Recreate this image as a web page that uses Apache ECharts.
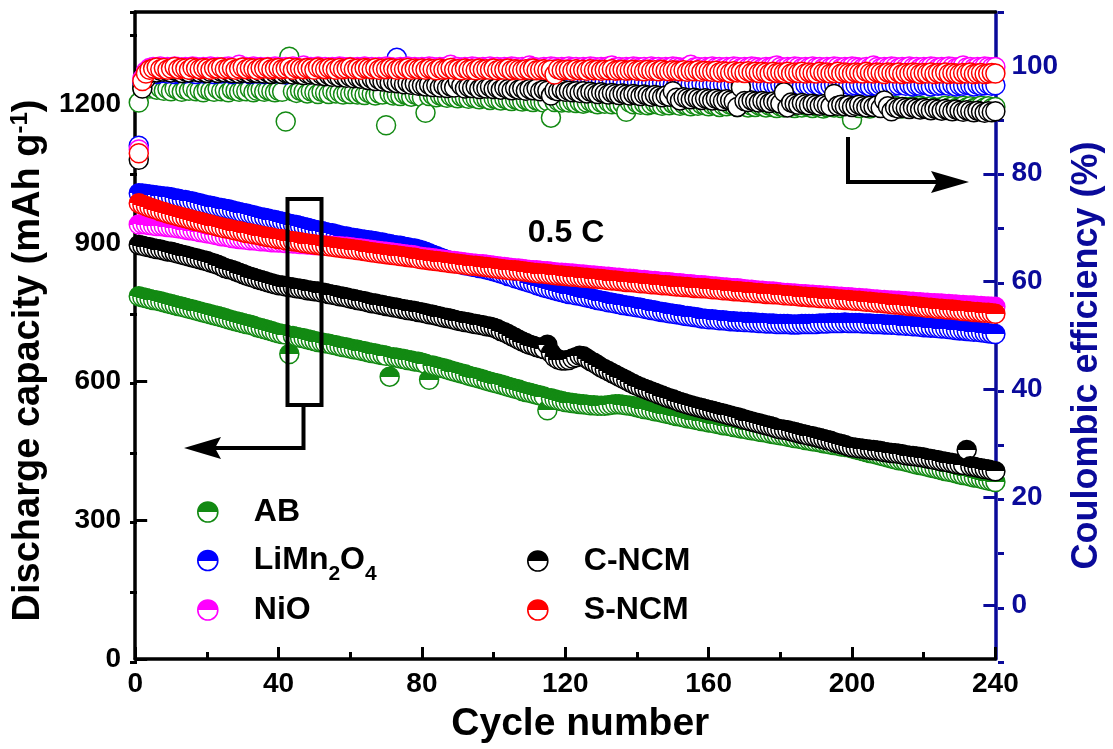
<!DOCTYPE html>
<html><head><meta charset="utf-8">
<script src="https://cdn.jsdelivr.net/npm/echarts@6/dist/echarts.min.js"></script>
<style>html,body{margin:0;padding:0;background:#fff}#c{width:1113px;height:749px}</style>
</head><body><div id="c"></div>
<script>
const FONT = '"Liberation Sans", Arial, sans-serif';
const NAVY = '#0a0a9a';
const seriesNames = ['AB', 'LiMn2O4', 'NiO', 'C-NCM', 'S-NCM'];
const seriesColors = ['#138a13', '#0000ff', '#ff00ff', '#000000', '#ff0000'];
const xTicks = [0, 40, 80, 120, 160, 200, 240];
const leftTicks = [0, 300, 600, 900, 1200];
const rightTicks = [0, 20, 40, 60, 80, 100];

// Discharge capacity (mAh g-1), cycles 1..240
const capAB = [
785,783,781,779,777,776,774,772,770,768,766,764,762,760,758,756,754,752,750,748,
746,744,742,740,738,735,733,731,729,727,725,723,721,718,716,714,712,710,707,705,
703,702,660,699,697,695,694,692,690,688,686,685,683,682,680,679,677,675,674,672,
670,669,667,666,664,662,661,659,658,656,611,653,652,650,649,647,646,644,643,641,
639,604,635,633,631,629,627,624,622,620,618,616,613,611,609,607,605,602,600,598,
596,594,592,589,587,585,583,580,578,576,574,572,570,568,538,564,562,560,558,556,
555,554,553,552,551,550,549,549,548,548,548,549,550,551,551,550,549,548,547,545,
543,541,540,538,536,535,533,531,530,528,526,525,523,521,520,518,517,515,514,512,
511,509,508,506,505,504,502,501,499,498,496,495,494,492,491,490,488,487,485,484,
483,481,480,478,477,476,474,473,471,470,469,467,466,464,463,462,460,459,458,456,
454,452,450,448,446,444,442,440,438,436,434,432,430,429,427,425,423,421,420,418,
416,414,413,411,409,407,405,404,402,400,398,397,395,393,392,390,388,386,385,383];
const capLMO = [
1008,1007,1006,1005,1004,1003,1002,1001,1000,999,997,996,994,993,991,990,988,986,984,982,
981,979,977,976,974,973,971,969,967,965,964,962,960,958,956,955,953,951,950,948,
946,944,942,940,939,937,935,933,931,929,927,926,924,922,921,919,917,915,914,912,
911,910,908,907,906,905,904,902,901,899,898,896,895,894,892,891,889,888,886,884,
881,878,875,872,869,866,863,861,858,856,854,852,851,849,848,846,845,843,841,839,
837,834,832,829,827,824,822,819,817,814,812,809,807,804,802,800,798,796,794,792,
790,789,787,786,784,782,781,779,777,775,774,772,771,769,768,766,765,764,762,761,
760,758,757,755,754,752,751,750,748,747,746,745,743,742,741,740,739,737,736,735,
735,734,733,733,732,731,731,730,730,729,729,728,728,727,727,726,726,726,725,725,
725,725,724,724,724,725,725,725,725,725,726,726,726,727,727,727,727,728,727,727,
727,727,726,726,726,725,725,725,724,724,723,723,722,722,721,721,720,720,719,718,
718,717,717,716,715,715,714,713,712,711,711,710,709,708,708,707,706,705,704,703];
const capNiO = [
940,941,940,939,938,937,937,936,935,934,933,932,931,929,928,927,926,924,923,921,
920,918,917,915,914,913,911,910,909,908,907,906,906,905,904,904,903,902,902,901,
901,900,900,899,899,898,898,897,897,896,896,895,895,894,894,893,893,892,892,891,
890,889,888,887,886,885,884,883,882,881,880,879,878,877,876,875,874,873,871,870,
869,868,867,866,865,864,863,862,861,860,859,858,857,856,855,854,854,853,852,851,
850,849,848,847,846,845,845,844,843,842,841,841,840,839,839,838,837,836,836,835,
834,834,833,832,832,831,830,830,829,828,827,827,826,825,825,824,823,823,822,821,
820,820,819,818,818,817,816,816,815,814,813,813,812,811,811,810,809,809,808,807,
806,806,805,804,804,803,802,802,801,800,799,799,798,797,797,796,795,795,794,793,
792,792,791,791,790,789,789,788,788,787,787,786,786,785,785,784,784,783,783,782,
781,781,780,780,779,778,778,777,777,776,776,775,775,774,774,773,773,772,772,771,
771,770,770,769,769,768,768,767,767,766,766,765,765,765,764,764,763,763,762,762];
const capCNCM = [
896,894,892,891,889,887,886,884,882,881,879,877,875,873,871,869,867,865,863,861,
858,856,853,850,846,844,842,839,836,833,830,827,825,822,820,818,815,813,811,809,
808,806,805,804,802,801,800,798,797,796,795,793,792,790,788,787,785,784,782,780,
779,777,775,774,772,770,769,767,766,764,763,761,760,758,757,755,754,753,751,750,
748,746,745,743,741,739,738,736,734,732,731,729,728,726,725,723,722,720,719,717,
714,710,707,703,699,695,691,687,684,680,678,675,673,671,680,662,653,648,646,646,
647,650,653,656,655,650,645,641,636,631,627,623,619,615,611,607,603,599,595,591,
588,585,582,579,576,573,570,567,564,562,559,556,554,551,549,547,545,543,541,539,
537,535,533,531,529,527,525,523,521,518,516,514,512,510,508,506,504,502,499,497,
496,495,493,491,489,487,485,483,482,480,478,476,474,472,469,467,465,463,460,458,
457,456,455,454,453,452,451,450,448,447,446,445,444,443,441,440,439,438,437,436,
434,433,431,430,428,427,425,424,422,421,420,452,417,416,414,413,411,410,408,406];
const capSNCM = [
986,983,980,977,974,972,969,967,964,962,960,958,956,954,952,950,948,946,944,942,
940,938,936,934,932,931,929,927,926,924,922,921,919,918,916,915,913,912,910,909,
908,906,905,904,903,902,900,899,898,897,896,895,894,893,892,891,890,889,888,887,
886,885,884,883,881,880,879,878,877,876,875,874,873,872,871,870,869,868,866,865,
864,863,862,861,860,859,858,857,856,855,854,853,852,851,851,850,849,848,847,846,
845,844,843,842,841,841,840,839,838,837,836,835,834,834,833,832,831,830,830,829,
828,827,827,826,825,825,824,823,823,822,821,820,819,819,818,817,816,816,815,814,
813,813,812,811,811,810,809,809,808,807,806,806,805,805,804,803,803,802,802,801,
800,800,799,798,798,797,796,796,795,794,794,793,792,792,791,790,790,789,789,788,
787,787,786,786,785,784,784,783,783,782,781,781,780,780,779,778,778,777,777,776,
775,775,774,773,773,772,771,771,770,769,768,767,767,766,765,764,764,763,762,761,
760,760,759,758,758,757,756,756,755,754,753,753,752,751,751,750,749,749,748,747];

// Coulombic efficiency (%), cycles 1..240
const ceAB = [
93.2,95.9,96.2,95.8,96.0,95.6,95.9,95.4,95.7,95.3,95.8,95.5,95.2,95.6,95.4,95.8,95.3,95.5,95.1,95.6,
95.4,95.2,95.7,95.3,95.5,95.1,95.6,95.4,95.2,95.5,95.3,95.7,95.1,95.4,95.6,95.2,95.5,95.3,95.1,95.4,
95.2,89.7,101.7,95.3,95.0,95.4,95.2,94.9,95.3,95.1,94.8,95.2,95.0,94.8,95.3,94.9,95.1,94.7,95.0,94.8,
95.1,94.7,94.9,94.6,95.0,94.8,94.5,94.9,94.7,89.0,94.8,94.5,94.7,94.4,94.8,94.6,94.3,94.7,94.5,94.2,
91.3,94.4,94.6,94.2,94.5,94.3,94.1,94.4,94.2,94.0,94.3,94.1,93.9,94.2,94.0,93.8,94.1,93.9,93.7,94.0,
93.8,93.6,93.9,93.7,93.5,93.8,93.6,93.4,93.7,93.5,93.3,93.6,93.4,93.2,93.5,90.4,93.3,93.5,93.2,93.4,
93.2,93.4,93.1,93.3,93.0,93.2,93.4,93.1,92.9,93.2,93.0,93.3,92.9,93.1,92.8,93.0,91.5,93.2,92.9,93.1,
92.8,93.0,92.7,92.9,93.1,92.8,92.6,92.9,92.7,93.0,92.8,92.6,92.9,92.7,92.5,92.8,92.6,92.9,92.7,92.5,
92.8,92.6,92.4,92.7,92.5,92.8,92.6,92.4,92.7,92.5,92.3,92.6,92.4,92.7,92.5,92.3,92.6,92.4,92.2,92.5,
92.3,92.6,92.4,92.2,92.5,92.3,92.6,92.4,92.2,92.5,92.3,92.1,92.4,92.6,92.3,92.5,92.2,92.4,92.6,90.0,
92.4,92.2,92.5,92.3,92.1,92.4,92.6,92.3,92.5,92.2,92.4,92.6,92.3,92.1,92.4,92.2,92.5,92.3,92.6,92.4,
92.2,92.5,92.3,92.1,92.4,92.6,92.3,92.5,92.2,92.4,92.6,92.3,92.5,92.2,92.4,92.6,92.3,92.5,92.2,92.4];
const ceLMO = [
85.2,96.8,98.2,98.6,98.8,98.5,98.7,98.9,98.6,98.8,98.5,98.7,98.9,98.6,98.8,98.7,98.5,98.8,98.6,98.9,
98.7,98.5,98.8,98.6,98.9,98.7,98.5,98.8,98.6,98.7,98.9,98.5,98.7,98.6,98.8,98.5,98.7,98.9,98.6,98.8,
98.6,98.4,98.7,98.5,98.8,98.6,98.4,98.7,98.5,98.6,98.8,98.4,98.6,98.5,98.7,98.4,98.6,98.5,98.7,98.4,
98.5,98.3,98.6,98.4,98.2,98.5,98.3,98.1,98.4,98.2,97.4,98.3,101.5,98.1,98.3,98.0,98.2,98.1,97.9,98.2,
98.0,98.2,97.9,98.1,98.0,97.8,98.1,97.9,98.0,97.8,98.1,97.9,97.7,98.0,97.8,97.9,97.7,98.0,97.8,97.9,
97.7,97.9,97.6,97.8,97.7,97.9,97.6,97.8,97.5,97.7,97.8,97.6,97.4,97.7,97.5,97.6,97.4,97.7,97.5,97.3,
97.5,97.3,97.6,97.4,97.2,97.5,97.3,97.1,97.4,97.2,97.0,97.3,97.1,96.9,97.2,97.0,96.8,97.1,96.9,97.0,
96.8,97.0,96.7,96.9,96.6,96.8,96.9,96.6,96.8,96.5,96.7,96.9,96.5,96.7,96.6,96.8,96.5,96.7,96.4,96.6,
96.5,96.7,96.4,96.6,96.5,96.3,96.6,96.4,96.5,96.3,96.6,96.4,96.5,96.3,96.6,96.4,96.2,96.5,96.3,96.5,
96.4,96.6,96.3,96.5,96.4,96.2,96.5,96.3,96.4,96.6,96.3,96.5,96.2,96.4,96.5,96.3,96.4,96.2,96.5,96.3,
96.4,96.6,96.3,96.5,96.2,96.4,96.3,96.5,96.4,96.2,96.5,96.3,96.4,96.6,96.3,96.5,96.2,96.4,96.3,96.5,
96.4,96.2,96.5,96.3,96.4,96.6,96.3,96.5,96.2,96.4,96.3,96.5,96.4,96.2,96.5,96.3,96.4,96.6,96.3,96.4];
const ceNiO = [
84.5,97.6,99.0,99.6,99.8,99.7,99.9,99.6,99.8,99.7,99.9,99.8,99.6,99.8,99.7,99.9,99.8,99.6,99.8,99.7,
99.9,99.7,99.8,99.6,99.8,99.9,99.7,99.8,100.2,99.7,99.8,99.6,99.9,99.7,99.8,99.6,99.8,99.7,99.9,99.8,
99.7,99.8,99.6,99.9,99.7,99.8,100.1,99.7,99.8,99.6,99.9,99.7,99.8,99.6,99.8,99.7,99.9,99.8,99.7,99.8,
99.6,99.8,99.7,99.9,99.7,99.8,99.6,99.8,99.7,99.9,99.8,99.7,99.6,99.8,99.7,99.9,99.7,99.8,99.6,99.8,
99.7,99.9,99.8,99.6,99.8,99.7,99.9,100.2,99.7,99.8,99.6,99.8,99.7,99.9,99.8,99.6,99.8,99.7,99.9,99.7,
99.8,99.6,99.8,99.7,99.9,99.8,99.6,99.8,99.7,100.1,99.8,99.7,99.6,99.8,99.7,99.9,99.8,99.6,99.8,99.7,
99.9,99.7,99.8,99.6,99.8,99.7,99.9,99.8,99.6,99.8,99.7,99.9,100.1,99.7,99.8,99.6,99.8,99.7,99.9,99.8,
99.7,99.8,99.6,99.9,99.7,99.8,99.6,99.8,99.7,99.9,99.8,99.7,99.6,99.8,100.2,99.7,99.8,99.6,99.8,99.7,
99.9,99.7,99.8,99.6,99.8,99.7,99.9,99.8,99.6,99.8,99.7,99.9,99.8,99.7,99.6,99.8,99.7,99.9,100.1,99.8,
99.6,99.8,99.7,99.9,99.8,99.6,99.8,99.7,99.9,99.7,99.8,99.6,99.8,99.7,99.9,99.8,99.6,99.8,99.7,99.9,
99.8,99.7,99.6,99.8,99.7,100.1,99.8,99.6,99.8,99.7,99.9,99.8,99.6,99.8,99.7,99.9,99.7,99.8,99.6,99.8,
99.7,99.9,99.8,99.6,99.8,99.7,99.9,99.8,99.6,99.8,100.1,99.7,99.8,99.6,99.8,99.7,99.9,99.8,99.7,99.8];
const ceCNCM = [
82.6,95.8,97.6,98.7,99.0,98.8,99.1,98.9,99.0,98.8,99.1,98.9,98.7,99.0,98.8,99.1,98.9,98.8,99.0,98.7,
98.9,99.0,98.7,98.9,98.8,99.0,98.7,98.9,98.6,98.8,98.9,98.6,98.8,98.7,98.9,98.6,98.8,98.5,98.7,98.8,
98.5,98.7,98.6,98.4,98.7,98.5,98.3,98.6,98.4,98.5,98.2,98.4,98.1,98.3,98.0,98.2,97.9,98.1,97.8,98.0,
97.7,97.9,97.6,97.8,97.4,97.6,97.2,97.5,97.1,97.3,96.9,97.2,96.8,97.0,96.6,96.9,96.5,96.7,96.3,96.4,
96.2,96.5,96.1,96.4,96.0,96.3,95.9,96.2,96.0,97.2,96.3,95.8,96.1,95.9,96.2,95.7,96.0,95.8,96.1,95.7,
95.9,95.6,96.0,95.7,95.5,95.9,95.6,95.8,95.4,95.7,95.5,95.8,95.3,95.6,95.4,94.5,95.5,95.3,95.6,95.2,
95.4,95.1,95.3,95.0,95.3,94.9,95.2,95.0,94.8,95.1,94.9,94.7,95.0,94.8,94.6,94.9,94.7,94.5,94.8,94.6,
94.4,94.7,94.5,94.3,94.6,94.4,94.2,94.5,94.3,95.3,94.1,93.6,94.2,94.0,93.8,94.1,93.9,93.7,94.0,93.8,
93.6,93.9,93.7,93.5,93.8,93.6,93.4,92.4,96.0,93.5,93.3,93.6,93.4,93.2,93.5,93.3,93.1,93.4,93.2,93.0,
95.1,92.3,93.2,93.0,92.8,93.1,92.9,92.7,93.0,92.8,92.6,92.9,92.7,92.5,94.8,92.6,92.8,92.5,92.7,92.4,
92.6,92.8,92.5,92.3,92.6,92.4,92.7,92.2,93.6,92.5,91.6,92.3,92.1,92.4,92.2,92.0,92.3,92.1,91.9,92.2,
92.0,91.8,92.1,91.9,91.7,92.0,91.8,91.6,91.9,91.7,91.5,91.8,91.6,91.4,91.7,91.5,91.3,91.6,91.4,91.6];
const ceSNCM = [
83.8,97.2,98.6,99.3,99.5,99.7,99.4,99.6,99.3,99.5,99.8,99.4,99.6,99.5,99.3,99.7,99.5,99.4,99.6,99.5,
99.3,99.6,99.5,99.7,99.4,99.5,99.6,99.3,99.5,99.7,99.4,99.6,99.5,99.3,99.6,99.5,99.7,99.4,99.5,99.6,
99.4,99.5,99.7,99.3,99.6,99.5,99.4,99.6,99.5,99.3,99.7,99.5,99.4,99.6,99.5,99.3,99.6,99.4,99.5,99.7,
99.4,99.5,99.3,99.6,99.5,99.4,99.6,99.3,99.5,99.4,99.6,99.5,99.3,99.5,99.4,99.6,99.3,99.5,99.4,99.5,
99.3,99.5,99.4,99.2,99.5,99.3,99.4,99.6,99.3,99.4,99.2,99.5,99.3,99.4,99.2,99.5,99.3,99.4,99.3,99.5,
99.2,99.4,99.3,99.5,99.2,99.4,99.3,99.2,99.4,99.3,99.5,99.2,99.3,99.4,99.2,99.3,98.4,99.4,99.2,99.3,
99.3,99.1,99.4,99.2,99.3,99.1,99.4,99.2,99.3,99.1,99.3,99.2,99.4,99.1,99.2,99.3,99.1,99.2,99.3,99.1,
99.2,99.0,99.3,99.1,99.2,99.0,99.3,99.1,99.0,99.2,99.1,99.0,99.2,98.9,99.1,99.0,99.2,98.9,99.1,99.0,
98.9,99.1,98.8,99.0,98.9,98.7,99.0,98.8,98.9,98.7,99.0,98.8,98.9,98.7,98.9,98.8,98.6,98.9,98.7,98.8,
98.7,98.9,98.6,98.8,98.7,98.9,98.6,98.8,98.7,98.6,98.9,98.7,98.8,98.6,98.7,98.9,98.6,98.8,98.7,98.6,
98.8,98.7,98.6,98.9,98.7,98.6,98.8,98.7,98.5,98.8,98.7,98.6,98.8,98.5,98.7,98.6,98.8,98.7,98.5,98.7,
98.6,98.8,98.5,98.7,98.6,98.8,98.5,98.7,98.6,98.5,98.7,98.6,98.8,98.5,98.6,98.7,98.5,98.6,98.7,98.6];

const capData = [capAB, capLMO, capNiO, capCNCM, capSNCM];
const ceData = [ceAB, ceLMO, ceNiO, ceCNCM, ceSNCM];
const legendLabels = {
  'AB': 'AB', 'LiMn2O4': 'LiMn{s|2}O{s|4}', 'NiO': 'NiO', 'C-NCM': 'C-NCM', 'S-NCM': 'S-NCM'
};

function pairs(arr) { return arr.map((v, i) => [i + 1, v]); }
function halfFill(c) {
  return { type: 'linear', x: 0, y: 0, x2: 0, y2: 1,
    colorStops: [{offset: 0, color: c}, {offset: 0.5, color: c}, {offset: 0.5, color: '#fff'}, {offset: 1, color: '#fff'}] };
}

const chart = echarts.init(document.getElementById('c'), null, {renderer: 'canvas'});
const series = [];
seriesNames.forEach((n, k) => {
  series.push({
    name: n, type: 'scatter', xAxisIndex: 0, yAxisIndex: 0, symbol: 'circle', symbolSize: 19,
    data: pairs(capData[k]),
    itemStyle: { color: halfFill(seriesColors[k]), borderColor: seriesColors[k], borderWidth: 1.5, opacity: 1 },
    emphasis: { disabled: true }, z: 2
  });
});
seriesNames.forEach((n, k) => {
  series.push({
    name: n, type: 'scatter', xAxisIndex: 0, yAxisIndex: 1, symbol: 'circle', symbolSize: 19,
    data: pairs(ceData[k]),
    itemStyle: { color: '#ffffff', borderColor: seriesColors[k], borderWidth: 1.5, opacity: 1 },
    emphasis: { disabled: true }, z: 2
  });
});

function mkLegend(name, left, top) {
  return {
    data: [name], left: left, top: top, orient: 'horizontal', padding: 0,
    itemWidth: 20, itemHeight: 20, icon: 'circle', selectedMode: false,
    itemStyle: { borderWidth: 1.6 },
    formatter: (n) => legendLabels[n],
    textStyle: {
      fontSize: 32, fontWeight: 'bold', fontFamily: FONT, color: '#000', lineHeight: 36,
      padding: [0, 0, 0, 31],
      rich: { s: { fontSize: 21, fontWeight: 'bold', fontFamily: FONT, color: '#000', lineHeight: 21, padding: [28, 0, 0, 0] } }
    }
  };
}

const tickLabelStyle = { fontSize: 28, fontWeight: 'bold', fontFamily: FONT, color: '#000' };
const gridBox = { left: 130, right: 109, top: 12, bottom: 87, containLabel: false, show: false };

const option = {
  animation: false,
  backgroundColor: '#fff',
  grid: [Object.assign({}, gridBox), Object.assign({}, gridBox)],
  legend: [
    mkLegend('AB', 197, 494),
    mkLegend('LiMn2O4', 197, 536),
    mkLegend('NiO', 197, 592),
    mkLegend('C-NCM', 527, 543),
    mkLegend('S-NCM', 527, 592)
  ],
  xAxis: [
    {
      gridIndex: 0, type: 'value', min: 0, max: 240, interval: 40, position: 'bottom',
      name: 'Cycle number', nameLocation: 'middle', nameGap: 46,
      nameTextStyle: { fontSize: 39, fontWeight: 'bold', fontFamily: FONT, color: '#000', padding: [0, 0, 0, 30] },
      axisLine: { show: true, onZero: false, lineStyle: { color: '#000', width: 3.5 } },
      axisTick: { show: true, inside: true, length: 12, lineStyle: { color: '#000', width: 3 } },
      minorTick: { show: true, splitNumber: 2, length: 7, lineStyle: { color: '#000', width: 3 } },
      axisLabel: Object.assign({ margin: 11, formatter: v => xTicks.includes(v) ? String(v) : '' }, tickLabelStyle),
      splitLine: { show: false }, minorSplitLine: { show: false }
    },
    {
      gridIndex: 0, type: 'value', min: 0, max: 240, position: 'top',
      axisLine: { show: true, onZero: false, lineStyle: { color: '#000', width: 3.5 } },
      axisTick: { show: false }, axisLabel: { show: false }, splitLine: { show: false }
    },
    {
      gridIndex: 1, type: 'value', min: 0, max: 240, show: false
    }
  ],
  yAxis: [
    {
      gridIndex: 0, type: 'value', min: 0, max: 1400, interval: 300, position: 'left',
      name: 'Discharge capacity (mAh g{sup|-1})', nameLocation: 'middle', nameGap: 76, nameRotate: 90,
      nameTextStyle: {
        fontSize: 38, fontWeight: 'bold', fontFamily: FONT, color: '#000', padding: [0, 50, 0, 0],
        rich: { sup: { fontSize: 24, fontWeight: 'bold', fontFamily: FONT, color: '#000', padding: [0, 0, 18, 0] } }
      },
      axisLine: { show: true, onZero: false, lineStyle: { color: '#000', width: 3.5 } },
      axisTick: { show: true, inside: true, length: 12, customValues: leftTicks, lineStyle: { color: '#000', width: 3 } },
      axisLabel: Object.assign({ margin: 14, customValues: leftTicks,
        formatter: v => leftTicks.includes(v) ? String(v) : '' }, tickLabelStyle),
      splitLine: { show: false }
    },
    {
      gridIndex: 0, type: 'value', min: -10, max: 110, interval: 10, position: 'right',
      name: 'Coulombic efficiency (%)', nameLocation: 'middle', nameGap: 66, nameRotate: 90,
      nameTextStyle: { fontSize: 36, fontWeight: 'bold', fontFamily: FONT, color: NAVY, padding: [0, 40, 0, 0] },
      axisLine: { show: true, onZero: false, lineStyle: { color: NAVY, width: 3.5 } },
      axisTick: { show: true, inside: true, length: 12, customValues: rightTicks, lineStyle: { color: NAVY, width: 3 } },
      axisLabel: Object.assign({}, tickLabelStyle, { color: NAVY, margin: 16, customValues: rightTicks,
        formatter: v => rightTicks.includes(v) ? String(v) : '' }),
      splitLine: { show: false }
    },
    {
      gridIndex: 1, type: 'value', min: 0, max: 1400, interval: 150, position: 'left',
      axisLine: { show: false }, axisLabel: { show: false }, splitLine: { show: false },
      axisTick: { show: true, inside: true, length: 7, lineStyle: { color: '#000', width: 3 } }
    },
    {
      gridIndex: 1, type: 'value', min: -10, max: 110, interval: 10, position: 'right',
      axisLine: { show: false }, axisLabel: { show: false }, splitLine: { show: false },
      axisTick: { show: true, inside: true, length: 6, lineStyle: { color: NAVY, width: 3 } }
    }
  ],
  graphic: [
    { type: 'text', z: 10, style: { text: '0.5 C', x: 566, y: 233, fill: '#000', font: 'bold 32px "Liberation Sans", Arial, sans-serif',
      textAlign: 'center', textVerticalAlign: 'middle', verticalAlign: 'middle' } },
    { type: 'rect', z: 10, shape: { x: 287.5, y: 199, width: 34, height: 206 }, style: { fill: null, stroke: '#000', lineWidth: 4 } },
    { type: 'polyline', z: 10, shape: { points: [[303.5, 405], [303.5, 448], [215, 448]] }, style: { fill: null, stroke: '#000', lineWidth: 4 } },
    { type: 'polygon', z: 10, shape: { points: [[184, 448], [221, 437], [215, 448], [221, 459]] }, style: { fill: '#000' } },
    { type: 'polyline', z: 10, shape: { points: [[848, 137], [848, 182], [938, 182]] }, style: { fill: null, stroke: '#000', lineWidth: 4 } },
    { type: 'polygon', z: 10, shape: { points: [[969, 182], [931, 171], [937, 182], [931, 193]] }, style: { fill: '#000' } }
  ],
  series: series
};
chart.setOption(option);
</script>
</body></html>
